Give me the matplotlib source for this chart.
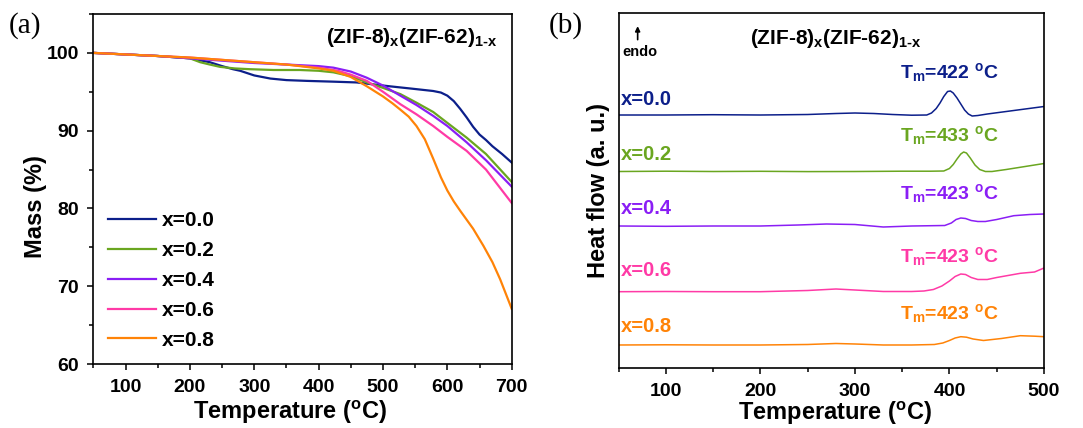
import matplotlib
matplotlib.use('Agg')
import matplotlib.pyplot as plt
from matplotlib.ticker import MultipleLocator, NullLocator

plt.rcParams['font.family'] = ['Liberation Sans', 'DejaVu Sans']
plt.rcParams['font.weight'] = 'bold'
plt.rcParams['mathtext.fontset'] = 'custom'
plt.rcParams['mathtext.rm'] = 'Liberation Sans:bold'
plt.rcParams['mathtext.it'] = 'Liberation Sans:bold'
plt.rcParams['mathtext.bf'] = 'Liberation Sans:bold'

labels = ['x=0.0', 'x=0.2', 'x=0.4', 'x=0.6', 'x=0.8']
colors = ['#0c1f8a', '#6aa620', '#8a1ef5', '#ff3aa6', '#ff8307']

# (a) TGA
tga_t0 = [50, 100, 150, 200, 231, 250, 267, 278, 300, 325, 350, 382, 423, 459, 490, 511, 545, 578,
          590, 600, 610, 620, 630, 640, 650, 660, 670, 685, 700]
tga_m0 = [100, 99.8, 99.6, 99.3, 98.8, 98.3, 97.9, 97.7, 97.1, 96.7, 96.5, 96.4, 96.3, 96.2, 95.9, 95.7,
          95.4, 95.1, 94.9, 94.5, 93.8, 92.8, 91.7, 90.5, 89.5, 88.8, 88.0, 87.0, 85.9]
tga_t2 = [50, 100, 150, 200, 216, 231, 247, 270, 294, 330, 371, 400, 423, 450, 475, 500, 527, 552,
          578, 600, 630, 660, 700]
tga_m2 = [100, 99.8, 99.6, 99.3, 98.8, 98.5, 98.2, 98.0, 97.9, 97.8, 97.8, 97.7, 97.5, 97.0, 96.2,
          95.5, 94.7, 93.6, 92.4, 91.0, 89.1, 87.0, 83.4]
tga_t4 = [50, 100, 150, 200, 250, 300, 350, 400, 423, 450, 475, 500, 527, 552, 578, 600, 630, 660, 700]
tga_m4 = [100, 99.8, 99.6, 99.3, 99.0, 98.7, 98.5, 98.3, 98.1, 97.6, 96.8, 95.8, 94.5, 93.3, 91.9,
          90.6, 88.5, 86.2, 82.8]
tga_t6 = [50, 100, 150, 200, 250, 300, 350, 400, 430, 450, 475, 500, 527, 552, 578, 600, 630, 660, 700]
tga_m6 = [100, 99.8, 99.6, 99.4, 99.1, 98.8, 98.5, 98.1, 97.7, 97.2, 96.4, 95.0, 93.4, 92.1, 90.6,
          89.2, 87.4, 85.0, 80.7]
tga_t8 = [50, 100, 150, 200, 250, 300, 350, 371, 400, 423, 450, 475, 500, 515, 527, 540, 552, 565,
          578, 590, 600, 610, 620, 640, 656, 670, 682, 700]
tga_m8 = [100, 99.8, 99.6, 99.4, 99.1, 98.8, 98.5, 98.3, 98.0, 97.7, 96.9, 95.7, 94.4, 93.5, 92.7,
          91.8, 90.6, 88.9, 86.4, 84.0, 82.3, 80.9, 79.7, 77.4, 75.2, 73.1, 70.9, 67.1]

# (b) DSC (arbitrary units, curves offset)
dsc_t0 = [50, 100, 150, 200, 250, 280, 300, 320, 340, 360, 376, 381, 386, 390, 394, 398, 401, 404,
          408, 412, 416, 420, 424, 430, 440, 460, 480, 500]
dsc_v0 = [253, 253, 253.3, 253, 253.5, 254.5, 255, 254.5, 253.5, 252.8, 253, 255, 259.5, 265, 271.5,
          276.5, 277, 275, 270, 264, 258, 254, 252, 252.5, 254, 256.5, 259, 261.5]
dsc_t2 = [50, 100, 150, 200, 250, 300, 350, 380, 394, 400, 404, 408, 412, 415, 418, 422, 427, 432,
          438, 445, 460, 480, 500]
dsc_v2 = [196.5, 196.8, 196.5, 196.7, 196.4, 196.5, 196.8, 196.8, 197, 199.5, 203.5, 209, 214, 216,
          215, 210, 203, 198.5, 196.5, 196.5, 198.5, 201.5, 204.5]
dsc_t4 = [50, 100, 150, 200, 240, 270, 300, 330, 360, 395, 402, 407, 412, 417, 423, 430, 438, 450,
          468, 485, 500]
dsc_v4 = [142, 141.7, 142, 142, 143, 144, 143.5, 141, 142, 142.5, 145, 148.5, 150, 149.5, 147.5,
          146.5, 146.5, 148.5, 152.3, 153.5, 154]
dsc_t6 = [50, 100, 150, 200, 250, 280, 300, 330, 360, 373, 383, 392, 400, 406, 412, 417, 423, 430,
          440, 450, 475, 490, 500]
dsc_v6 = [76.3, 76.5, 76.3, 76.3, 77.5, 79, 78, 76.5, 76.5, 77, 78.5, 82, 87, 91.5, 94, 93.5, 90.5,
          88.5, 88.5, 90.5, 94.7, 96, 100]
dsc_t8 = [50, 100, 150, 200, 250, 280, 300, 330, 360, 384, 393, 400, 406, 412, 418, 425, 436, 455,
          475, 490, 500]
dsc_v8 = [23, 23.2, 23, 23, 23.5, 24.5, 24, 23, 23, 23.5, 25, 27.5, 30, 31.3, 30.8, 29, 27.5, 29.5,
          32.3, 31.8, 31.3]

tm_labels = ['422', '433', '423', '423', '423']
tm_y = [296, 233, 175, 111, 54]
lab_y = [269, 214, 160, 97, 41]

tga = [(tga_t0, tga_m0), (tga_t2, tga_m2), (tga_t4, tga_m4), (tga_t6, tga_m6), (tga_t8, tga_m8)]
dsc = [(dsc_t0, dsc_v0), (dsc_t2, dsc_v2), (dsc_t4, dsc_v4), (dsc_t6, dsc_v6), (dsc_t8, dsc_v8)]

title = '(ZIF-8)$_\\mathregular{x}$(ZIF-62)$_\\mathregular{1\\text{-}x}$'
xlab = 'Temperature ($^\\mathregular{o}$C)'

fig = plt.figure(figsize=(10.83, 4.28), dpi=100)
ax1 = fig.add_axes([0.0862, 0.1495, 0.3863, 0.8178])
ax2 = fig.add_axes([0.5711, 0.1402, 0.3929, 0.8294])

for (t, m), c, lab in zip(tga, colors, labels):
    ax1.plot(t, m, color=c, lw=1.6, label=lab)
ax1.set_xlim(50, 700)
ax1.set_ylim(60, 105)
ax1.xaxis.set_major_locator(MultipleLocator(100))
ax1.xaxis.set_minor_locator(MultipleLocator(50))
ax1.yaxis.set_minor_locator(MultipleLocator(5))
ax1.set_yticks([60, 70, 80, 90, 100])
ax1.set_xlabel(xlab, fontsize=17, fontweight='bold')
ax1.set_ylabel('Mass (%)', fontsize=17, fontweight='bold')
ax1.xaxis.set_label_coords(0.47, -0.1)
ax1.yaxis.set_label_coords(-0.11, 0.45)
ax1.legend(loc='upper left', frameon=False, fontsize=15, handlelength=2.3,
           handletextpad=0.3, labelspacing=0.52, borderaxespad=0,
           bbox_to_anchor=(0.015, 0.46))
ax1.text(0.965, 0.965, title, transform=ax1.transAxes, ha='right', va='top',
         fontsize=15, fontweight='bold')

for (t, v), c, lab, tm, ty, ly in zip(dsc, colors, labels, tm_labels, tm_y, lab_y):
    ax2.plot(t, v, color=c, lw=1.1)
    ax2.text(53, ly, lab, color=c, fontsize=14.5, fontweight='bold', va='center')
    ax2.text(348, ty, 'T$_\\mathregular{m}$=' + tm + ' $^\\mathregular{o}$C', color=c,
             fontsize=14, fontweight='bold', va='center')
ax2.set_xlim(50, 500)
ax2.set_ylim(0, 355)
ax2.xaxis.set_major_locator(MultipleLocator(100))
ax2.xaxis.set_minor_locator(MultipleLocator(50))
ax2.yaxis.set_major_locator(NullLocator())
ax2.set_xlabel(xlab, fontsize=17, fontweight='bold')
ax2.set_ylabel('Heat flow (a. u.)', fontsize=17, fontweight='bold')
ax2.xaxis.set_label_coords(0.51, -0.09)
ax2.yaxis.set_label_coords(-0.02, 0.5)
ax2.text(0.51, 0.96, title, transform=ax2.transAxes, ha='center', va='top',
         fontsize=15, fontweight='bold')
ax2.annotate('', xy=(0.045, 0.963), xytext=(0.045, 0.925), xycoords='axes fraction',
             arrowprops=dict(arrowstyle='-|>', color='black', lw=1.2, mutation_scale=7,
                             shrinkA=0, shrinkB=0))
ax2.text(0.01, 0.89, 'endo', transform=ax2.transAxes, fontsize=10.5, fontweight='bold',
         va='center')

for ax in (ax1, ax2):
    ax.tick_params(which='both', direction='out', top=False, right=False, labelsize=14, width=1.1)
    ax.tick_params(which='major', length=4.5, pad=6)
    ax.tick_params(which='minor', length=3)
    for sp in ax.spines.values():
        sp.set_linewidth(1.2)
    for lbl in ax.get_xticklabels() + ax.get_yticklabels():
        lbl.set_fontweight('bold')

fig.text(0.008, 0.94, '(a)', fontsize=21, family='Liberation Serif', fontweight='normal', va='center')
fig.text(0.507, 0.94, '(b)', fontsize=21, family='Liberation Serif', fontweight='normal', va='center')

fig.savefig('out.png', dpi=100)
